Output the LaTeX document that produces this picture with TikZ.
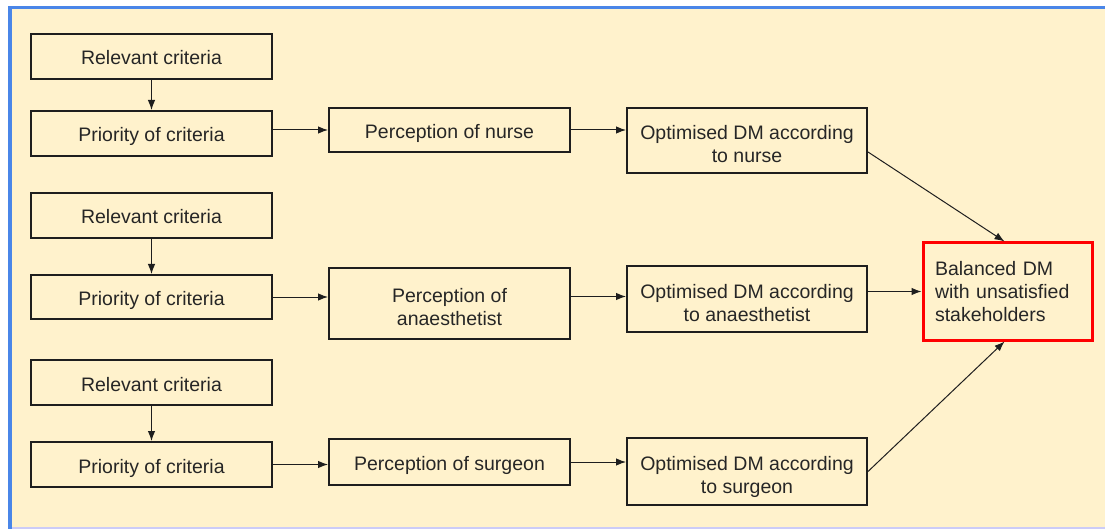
\documentclass[tikz,border=0pt]{standalone}
\usepackage{fontspec}
\setmainfont{Liberation Sans}
\usetikzlibrary{arrows.meta,calc}
\definecolor{cream}{HTML}{FFF2CC}
\definecolor{frameblue}{HTML}{4A86E8}
\definecolor{txt}{HTML}{262626}
\definecolor{edge}{HTML}{1E1E1E}
\tikzset{
  box/.style={draw=edge, line width=2pt, fill=cream, text=txt, align=center,
    minimum width=241pt, inner sep=2pt,
    font=\fontsize{19.5}{23}\selectfont},
  oneline/.style={text height=17pt, text depth=0pt},
  twoline/.style={text height=44pt, text depth=0pt},
  redbox/.style={draw=red, line width=3pt, fill=cream, text=txt, align=left,
    text width=145pt, inner xsep=12pt, minimum height=97pt,
    font=\fontsize{19.5}{23}\selectfont},
  arr/.style={draw=edge, line width=1pt, -{Latex[length=10pt,width=7.5pt]}}
}
\begin{document}
\begin{tikzpicture}[x=1pt,y=-1pt]
\useasboundingbox (0,0) rectangle (1105,529);
\fill[white] (0,0) rectangle (1105,529);
\fill[cream] (11,9) rectangle (1105,527);
\fill[frameblue] (8,6) rectangle (1105,9.5);
\fill[frameblue] (8,6) rectangle (11.5,529);
\fill[black!15!blue!20] (11.5,527) rectangle (1105,529);

\node[box, oneline, minimum height=45pt] (rel1) at (151.5,56.5) {Relevant criteria};
\node[box, oneline, minimum height=45pt] (pri1) at (151.5,133.5) {Priority of criteria};
\node[box, oneline, minimum height=44pt] (pn) at (449.5,130) {Perception of nurse};
\node[box, twoline, minimum width=240pt, minimum height=65pt] (on) at (747,140.5) {Optimised DM according\\to nurse};

\node[box, oneline, minimum height=45pt] (rel2) at (151.5,215.5) {Relevant criteria};
\node[box, oneline, minimum height=44pt] (pri2) at (151.5,297) {Priority of criteria};
\node[box, twoline, minimum height=71pt] (pa) at (449.5,303.5) {Perception of\\anaesthetist};
\node[box, twoline, minimum width=240pt, minimum height=66pt] (oa) at (747,299) {Optimised DM according\\to anaesthetist};

\node[box, oneline, minimum height=45pt] (rel3) at (151.5,382.5) {Relevant criteria};
\node[box, oneline, minimum height=45pt] (pri3) at (151.5,464.5) {Priority of criteria};
\node[box, oneline, minimum height=46pt] (ps) at (449.5,462) {Perception of surgeon};
\node[box, twoline, minimum width=240pt, minimum height=67pt] (os) at (747,471.5) {Optimised DM according\\to surgeon};

\node[redbox] (bal) at (1007.5,291.5) {Balanced DM\\with unsatisfied\\stakeholders};

\draw[arr] (rel1) -- (pri1);
\draw[arr] (rel2) -- (pri2);
\draw[arr] (rel3) -- (pri3);

\draw[arr] (pri1.east |- pn.west) -- (pn.west);
\draw[arr] (pn.east) -- (on.west |- pn.east);
\draw[arr] (pri2.east) -- (pa.west |- pri2.east);
\draw[arr] ($(pa.east)+(0,-7)$) -- (oa.west |- {$(pa.east)+(0,-7)$});
\draw[arr] (pri3.east) -- (ps.west |- pri3.east);
\draw[arr] (ps.east) -- (os.west |- ps.east);

\draw[arr] ($(on.east)+(0,11.5)$) -- ($(bal.north)+(-3,0)$);
\draw[arr] (oa.east |- bal.west) -- (bal.west);
\draw[arr] (os.east) -- ($(bal.south)+(-3,0)$);
\end{tikzpicture}
\end{document}
